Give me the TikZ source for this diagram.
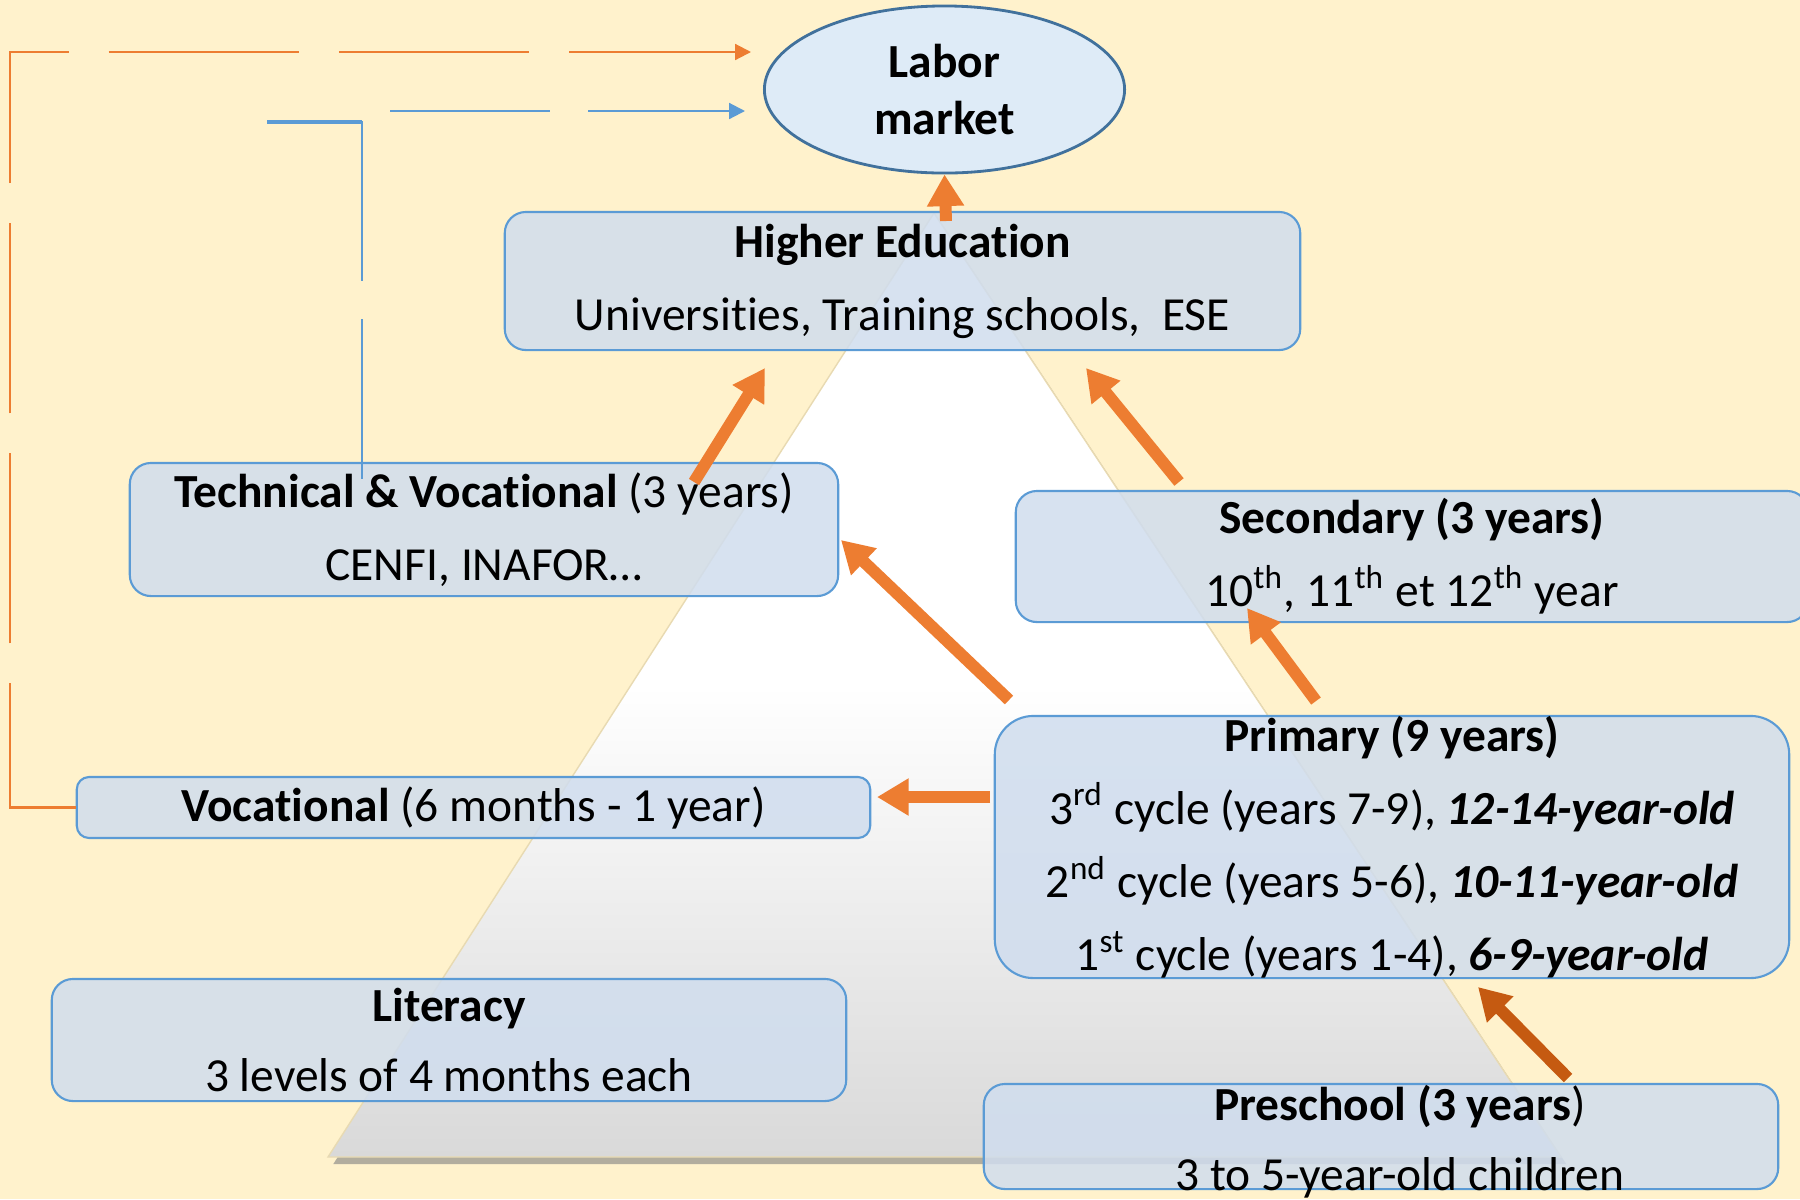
\documentclass[tikz,border=0pt]{standalone}
\usepackage{fontspec}
\setmainfont{Carlito}[Ligatures=NoCommon]
\usetikzlibrary{arrows.meta,shapes.geometric,shadows}

\definecolor{cream}{RGB}{255,242,204}
\definecolor{boxfill}{RGB}{208,221,238}
\definecolor{boxline}{RGB}{91,155,213}
\definecolor{ellfill}{RGB}{222,235,247}
\definecolor{ellline}{RGB}{65,113,156}
\definecolor{arr}{RGB}{237,125,49}
\definecolor{arrdark}{RGB}{197,90,17}
\definecolor{pyredge}{RGB}{232,218,178}
\definecolor{pyrbot}{RGB}{217,217,217}

\tikzset{
  level/.style={draw=boxline,line width=0.6pt,fill=boxfill,fill opacity=0.85,rounded corners=6pt,inner sep=0pt},
  txt/.style={align=center,inner sep=0pt,font=\fontsize{13.5}{20.8}\selectfont},
  flow/.style={arr,line width=3.4pt,-{Triangle[width=10pt,length=9pt]}},
  link/.style={line width=0.6pt,-{Triangle[width=4.5pt,length=4.5pt]}},
}

\begin{document}
\begin{tikzpicture}[x=0.01cm,y=-0.01cm]
\fill[cream] (0,0) rectangle (1800,1199);
\useasboundingbox (0,0) rectangle (1800,1199);
\clip (0,0) rectangle (1800,1199);

% pyramid in the back
\path[draw=pyredge,line width=0.4pt,top color=white,bottom color=pyrbot,middle color=white,
  drop shadow={shadow xshift=1.5pt,shadow yshift=-2pt,opacity=0.6}]
  (934,213) -- (1561,1157) -- (328,1157) -- cycle;

% levels
\node[level,minimum width=7.95cm,minimum height=1.38cm] (higher) at (902.5,281) {};
\node[level,minimum width=7.08cm,minimum height=1.33cm] (tech) at (484,529.5) {};
\node[level,minimum width=7.92cm,minimum height=1.31cm] (second) at (1412,556.5) {};
\node[level,rounded corners=11pt,minimum width=7.94cm,minimum height=2.62cm] (primary) at (1392,847) {};
\node[level,rounded corners=3.5pt,minimum width=7.93cm,minimum height=0.61cm] (voc) at (473.5,807.5) {};
\node[level,minimum width=7.94cm,minimum height=1.22cm] (literacy) at (449,1040) {};
\node[level,minimum width=7.94cm,minimum height=1.05cm] (preschool) at (1381,1136.5) {};

\node[ellipse,draw=ellline,line width=0.8pt,fill=ellfill,minimum width=3.6cm,minimum height=1.67cm,
  align=center,inner sep=0pt,font=\bfseries\fontsize{13.5}{16.2}\selectfont] (labor) at (944.5,89.5) {Labor\\market};

% texts
\node[txt] (higher-t) at (higher) {\textbf{Higher Education}\\Universities, Training schools,~ ESE};
\node[txt] (tech-t) at (tech) {\textbf{Technical \& Vocational} (3 years)\\CENFI, INAFOR…};
\node[txt] (second-t) at (second) {\textbf{Secondary (3 years)}\\10\textsuperscript{th}, 11\textsuperscript{th} et 12\textsuperscript{th} year};
\node[txt] (primary-t) at (primary) {\textbf{Primary (9 years)}\\
  3\textsuperscript{rd} cycle (years 7-9), \textbf{\textit{12-14-year-old}}\\
  2\textsuperscript{nd} cycle (years 5-6), \textbf{\textit{10-11-year-old}}\\
  1\textsuperscript{st} cycle (years 1-4), \textbf{\textit{6-9-year-old}}};
\node[txt] (voc-t) at (voc) {\textbf{Vocational} (6 months - 1 year)};
\node[txt,font=\fontsize{13.5}{19.9}\selectfont] (literacy-t) at (literacy) {\textbf{Literacy}\\3 levels of 4 months each};
\node[txt,font=\fontsize{13.5}{19.9}\selectfont] (preschool-t) at (1400,1142) {\textbf{Preschool (3 years})\\3 to 5-year-old children};

% links to the labor market
\coordinate (labor-in1) at (751,52);
\coordinate (labor-in2) at (745,111);
\draw[link,arr,dash pattern=on 1.9cm off 0.4cm] (voc.west) -- ++(-66,0) |- (labor-in1);
\draw[link,boxline,dash pattern=on 1.6cm off 0.38cm] ([shift={(-122,17)}]tech.north) |- (labor-in2);
\draw[boxline,line width=1.2pt] (267,122) -- (362,122);

% flows between levels
\coordinate (h-out) at (946,221);
\coordinate (t-out) at (694,482);
\coordinate (h-in1) at (765,368);
\coordinate (s-out) at (1179,482);
\coordinate (h-in2) at (1086,368);
\coordinate (p-out1) at (1009,700);
\coordinate (t-in) at (841,540);
\coordinate (p-out2) at (1316,701);
\coordinate (s-in) at (1247,608);
\coordinate (p-out3) at (990,797);
\coordinate (v-in) at (877,797);
\coordinate (k-out) at (1568,1078);
\coordinate (p-in) at (1478,987);

\draw[flow] (h-out) -- (labor.south);
\draw[flow] (t-out) -- (h-in1);
\draw[flow] (s-out) -- (h-in2);
\draw[flow] (p-out1) -- (t-in);
\draw[flow] (p-out2) -- (s-in);
\draw[flow] (p-out3) -- (v-in);
\draw[flow,arrdark] (k-out) -- (p-in);
\end{tikzpicture}
\end{document}
